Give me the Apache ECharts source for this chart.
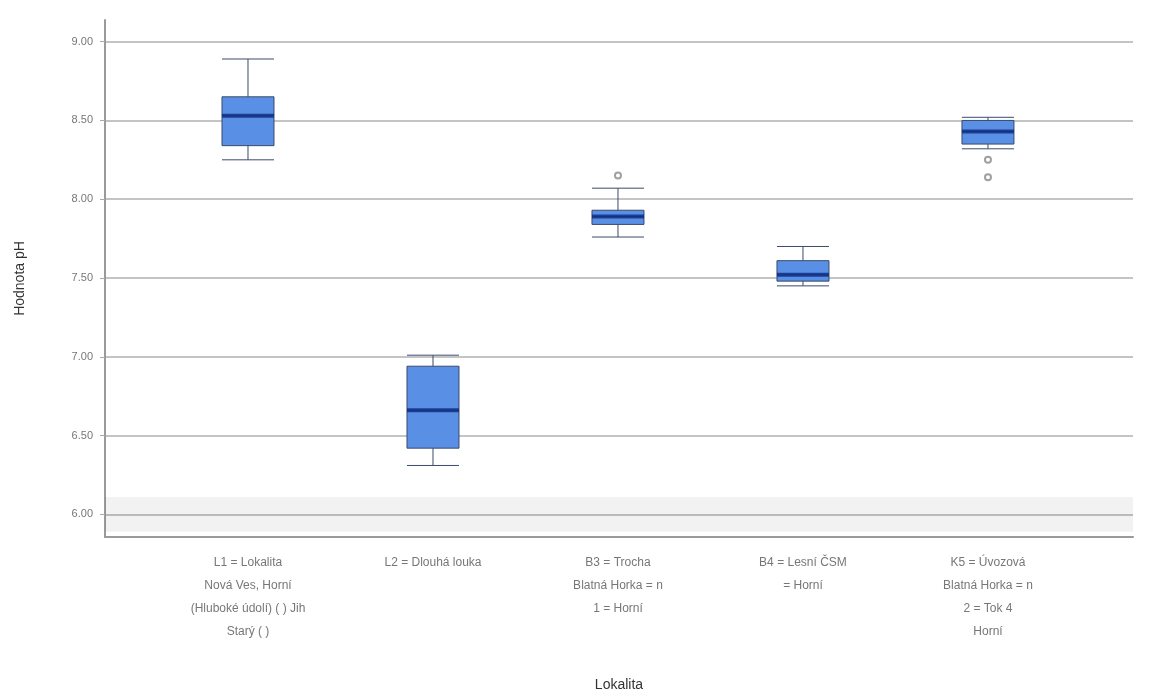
<!DOCTYPE html>
<html>
<head>
<meta charset="utf-8">
<script src="https://cdn.jsdelivr.net/npm/echarts@6/dist/echarts.min.js"></script>
<style>
  html, body { margin: 0; padding: 0; background: #fff; }
  #main { width: 1149px; height: 697px; }
</style>
</head>
<body>
<div id="main"></div>
<script>
// kategorie (osa x)
const categories = [
  'L1 = Lokalita\nNová Ves, Horní\n(Hluboké údolí) ( ) Jih\nStarý ( )',
  'L2 = Dlouhá louka',
  'B3 = Trocha\nBlatná Horka = n\n1 = Horní',
  'B4 = Lesní ČSM\n= Horní',
  'K5 = Úvozová\nBlatná Horka = n\n2 = Tok 4\nHorní'
]
// [min, Q1, medián, Q3, max]
const boxValues = [
  [8.25, 8.34, 8.53, 8.65, 8.89],
  [6.31, 6.42, 6.66, 6.94, 7.01],
  [7.76, 7.84, 7.89, 7.93, 8.07],
  [7.45, 7.48, 7.52, 7.61, 7.70],
  [8.32, 8.35, 8.43, 8.50, 8.52]
]
// odlehlé hodnoty [kategorie, hodnota]
const outliers = [
  [2, 8.15],
  [4, 8.25],
  [4, 8.14]
]
const yTicks = [6.0, 6.5, 7.0, 7.5, 8.0, 8.5, 9.0]

const boxData = boxValues.map((v, i) => [i].concat(v))
const medianData = boxValues.map((v, i) => [i, v[2]])

const option = {
  animation: false,
  backgroundColor: '#fff',
  grid: {left: 105, right: 16, top: 20, bottom: 152},
  xAxis: {
    type: 'value',
    min: -0.773,
    max: 4.784,
    name: 'Lokalita',
    nameLocation: 'middle',
    nameGap: 141,
    nameTextStyle: {color: '#333', fontSize: 14, fontFamily: 'Arial'},
    axisLine: {show: true, onZero: false, lineStyle: {color: '#9a9a9a', width: 2}},
    axisTick: {show: false},
    splitLine: {show: false},
    axisLabel: {
      customValues: [0, 1, 2, 3, 4],
      formatter: v => categories[Math.round(v)],
      color: '#777',
      fontSize: 12,
      lineHeight: 23,
      margin: 14,
      fontFamily: 'Arial'
    }
  },
  yAxis: {
    type: 'value',
    min: 5.856,
    max: 9.1375,
    name: 'Hodnota pH',
    nameLocation: 'middle',
    nameGap: 78,
    nameTextStyle: {color: '#333', fontSize: 14, fontFamily: 'Arial'},
    axisLine: {show: true, onZero: false, lineStyle: {color: '#9a9a9a', width: 2}},
    axisTick: {show: true, customValues: yTicks, length: 5, lineStyle: {color: '#aaa'}},
    axisLabel: {
      customValues: yTicks,
      formatter: v => v.toFixed(2),
      color: '#777',
      fontSize: 11,
      margin: 12,
      fontFamily: 'Arial'
    },
    splitLine: {show: true, lineStyle: {color: '#c4c4c4', width: 2}}
  },
  series: [
    {
      type: 'boxplot',
      layout: 'horizontal',
      encode: {x: 0, y: [1, 2, 3, 4, 5]},
      boxWidth: [52, 52],
      itemStyle: {color: '#5a8fe6', borderColor: '#3b4a6b', borderWidth: 1},
      data: boxData,
      markArea: {
        silent: true,
        itemStyle: {color: 'rgba(0,0,0,0.05)'},
        data: [[{yAxis: 5.89}, {yAxis: 6.11}]]
      }
    },
    {
      type: 'scatter',
      symbol: 'rect',
      symbolSize: [52, 4],
      itemStyle: {color: '#0b2a80'},
      data: medianData,
      z: 5
    },
    {
      type: 'scatter',
      symbol: 'emptyCircle',
      symbolSize: 6,
      itemStyle: {color: '#888', borderColor: '#888'},
      data: outliers
    }
  ]
}

const myChart = echarts.init(document.getElementById('main'))
myChart.setOption(option)
</script>
</body>
</html>
